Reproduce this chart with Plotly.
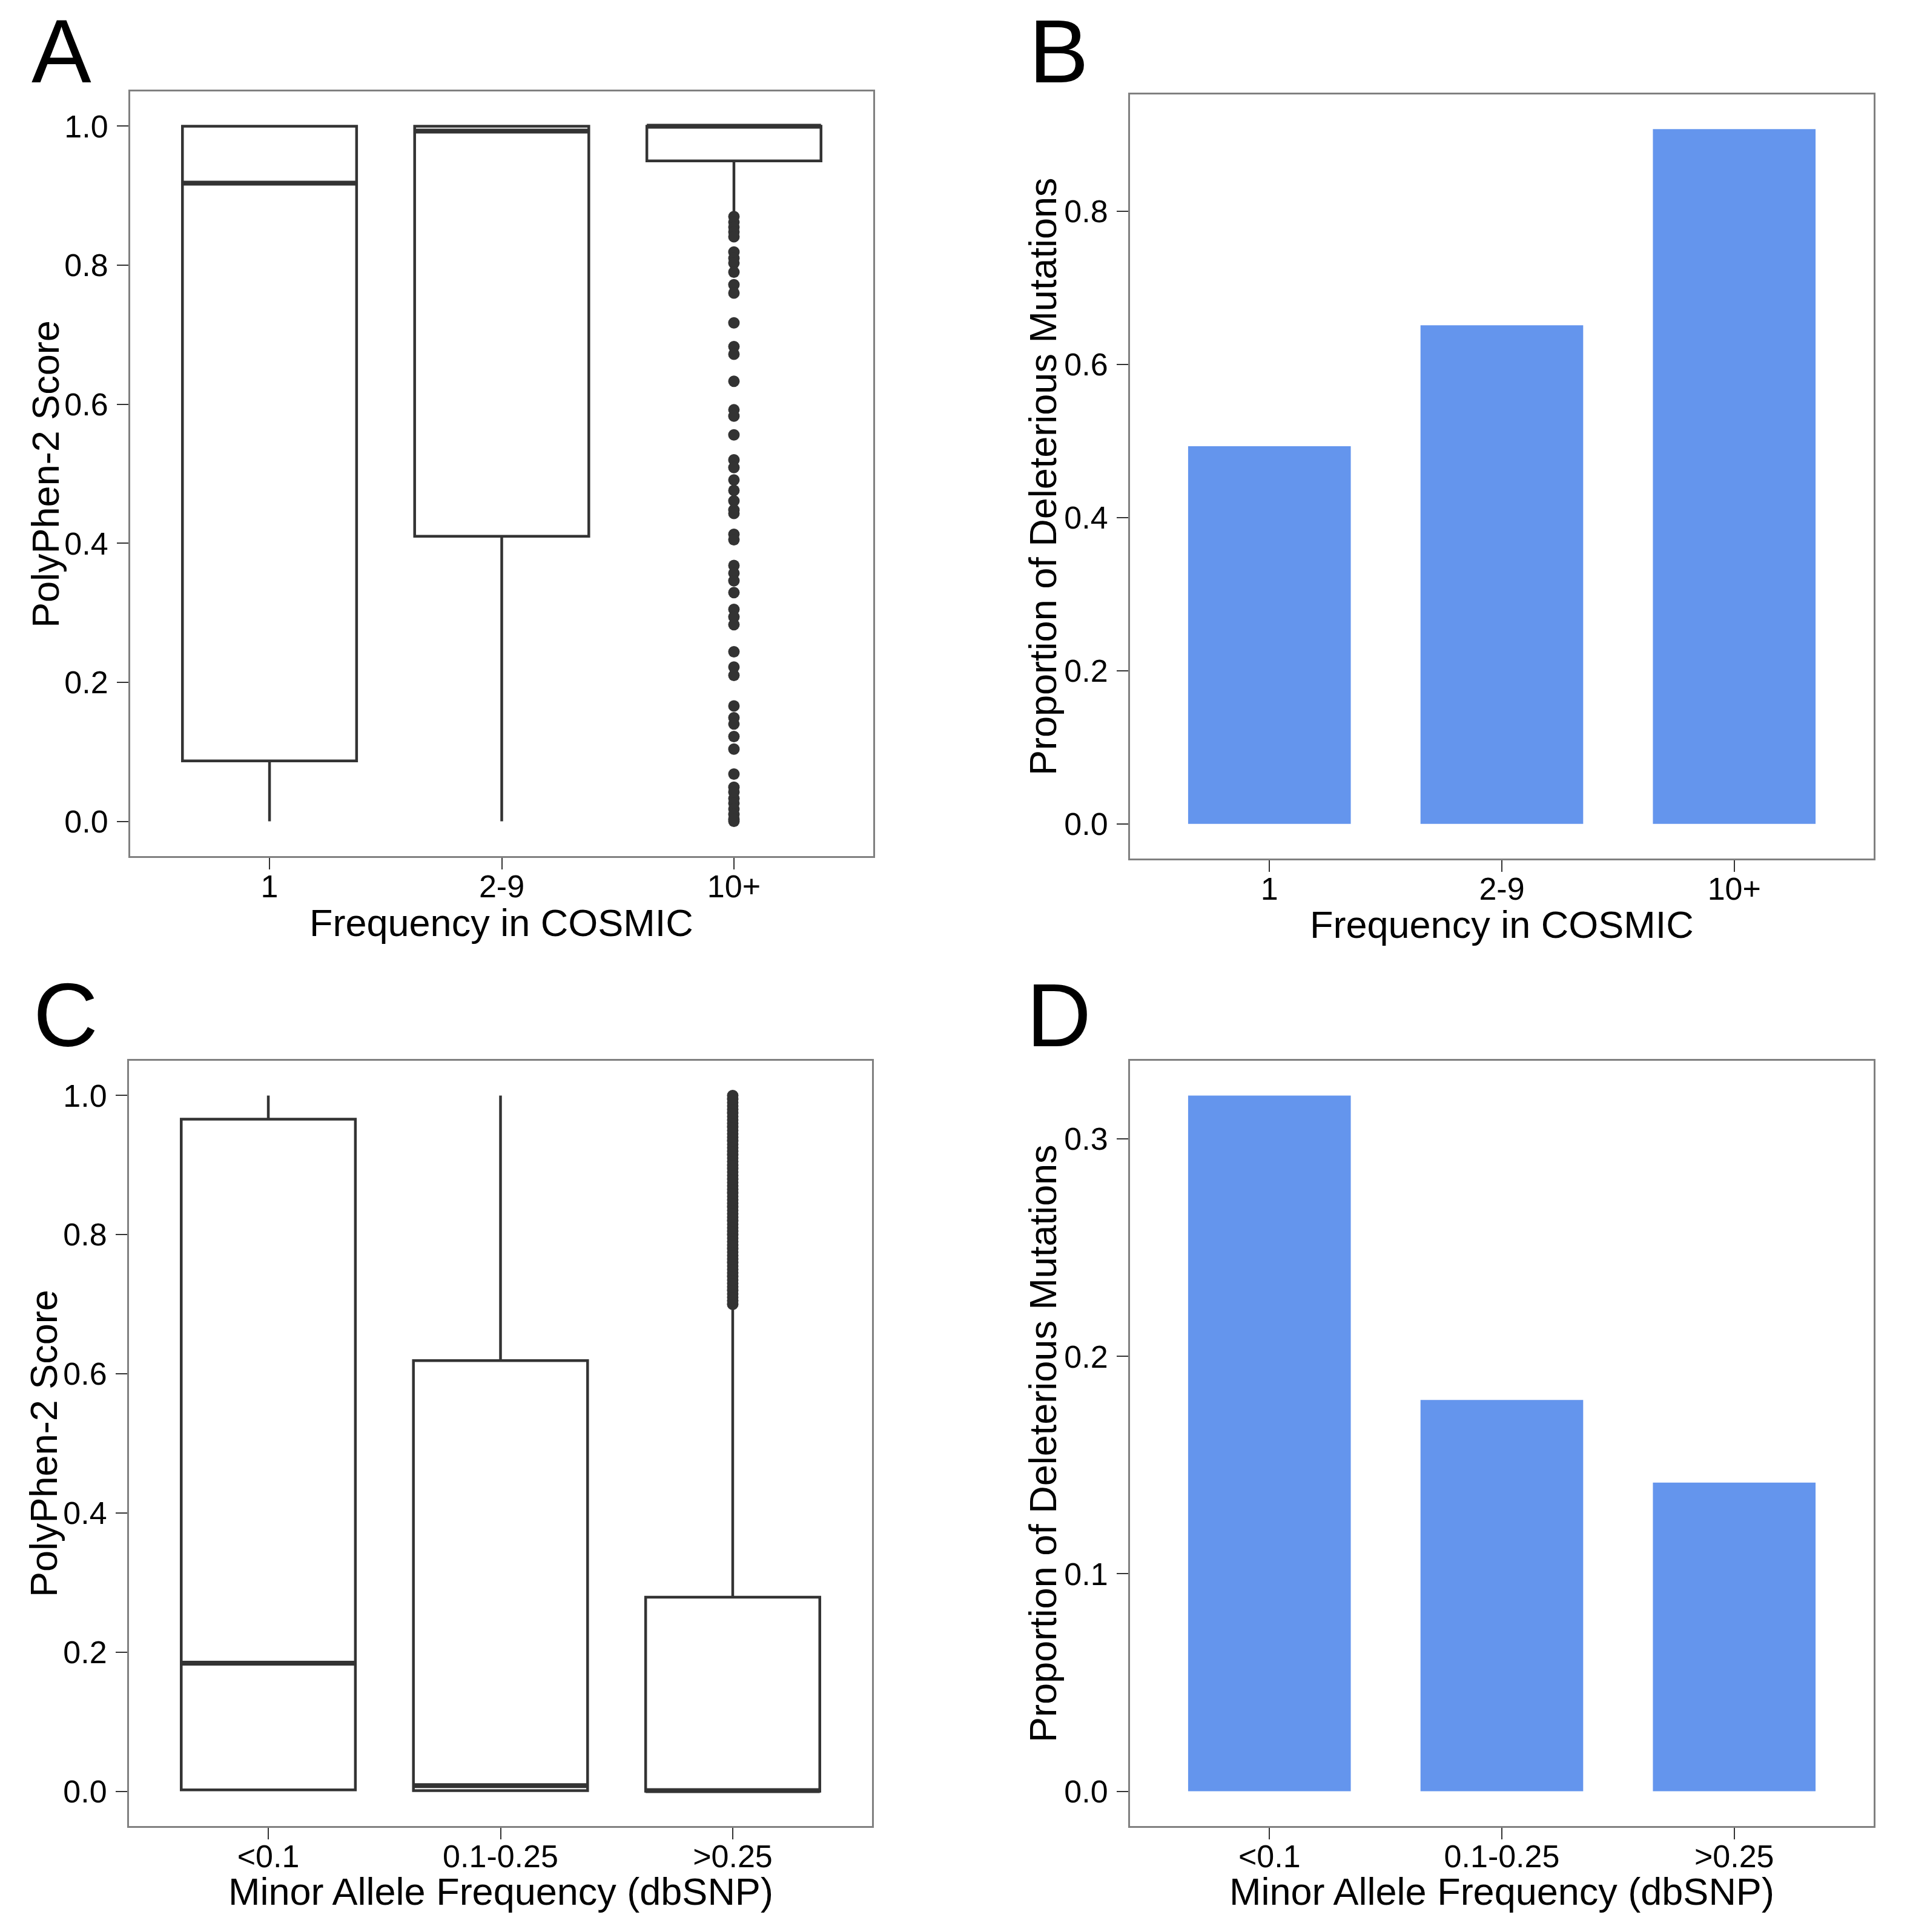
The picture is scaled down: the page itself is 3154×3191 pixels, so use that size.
import plotly.graph_objects as go

W, H = 3154, 3191

# ---------------- data ----------------
cosmic_cats = ["1", "2-9", "10+"]
maf_cats = ["<0.1", "0.1-0.25", ">0.25"]

# Panel A: PolyPhen-2 score by COSMIC frequency (box statistics)
a_lower = [0.0, 0.0, 0.875]
a_q1 = [0.087, 0.41, 0.95]
a_median = [0.918, 0.993, 1.0]
a_q3 = [1.0, 1.0, 1.0]
a_upper = [1.0, 1.0, 1.0]
a_outliers_10plus = [0.870, 0.862, 0.855, 0.848, 0.841, 0.819, 0.810, 0.803, 0.790,
                     0.772, 0.760, 0.717, 0.683, 0.672, 0.633, 0.592, 0.583, 0.556,
                     0.520, 0.509, 0.491, 0.476, 0.461, 0.448, 0.443, 0.413, 0.405,
                     0.368, 0.357, 0.346, 0.329, 0.305, 0.294, 0.283, 0.244, 0.222,
                     0.210, 0.166, 0.149, 0.140, 0.122, 0.104, 0.068, 0.049, 0.042,
                     0.033, 0.026, 0.018, 0.010, 0.003, 0.0]

# Panel B: proportion of deleterious mutations by COSMIC frequency
b_prop = [0.493, 0.651, 0.907]

# Panel C: PolyPhen-2 score by minor allele frequency (box statistics)
c_lower = [0.0, 0.0, 0.0]
c_q1 = [0.002, 0.001, 0.0]
c_median = [0.184, 0.008, 0.001]
c_q3 = [0.966, 0.619, 0.279]
c_upper = [1.0, 1.0, 0.697]
c_outliers_gt025 = [0.700, 0.705, 0.710, 0.715, 0.720, 0.725, 0.730, 0.735, 0.740,
                    0.745, 0.750, 0.755, 0.760, 0.765, 0.770, 0.775, 0.780, 0.785,
                    0.790, 0.795, 0.800, 0.805, 0.810, 0.815, 0.820, 0.825, 0.830,
                    0.835, 0.840, 0.845, 0.850, 0.855, 0.860, 0.865, 0.870, 0.875,
                    0.880, 0.885, 0.890, 0.895, 0.900, 0.905, 0.910, 0.915, 0.920,
                    0.925, 0.930, 0.935, 0.940, 0.945, 0.950, 0.955, 0.960, 0.965,
                    0.970, 0.975, 0.980, 0.985, 0.990, 0.995, 1.000]

# Panel D: proportion of deleterious mutations by minor allele frequency
d_prop = [0.320, 0.180, 0.142]

score_ticks = [0.0, 0.2, 0.4, 0.6, 0.8, 1.0]
b_ticks = [0.0, 0.2, 0.4, 0.6, 0.8]
d_ticks = [0.0, 0.1, 0.2, 0.3]

# ---------------- style ----------------
FONT = "Liberation Sans, Arial, Helvetica, sans-serif"
DARK = "#333333"
FRAME = "#808080"
BAR = "#6495ED"
TICK_FS = 52
TITLE_FS = 63
LETTER_FS = 148
BOX_W = 0.75
BAR_W = 0.7
DOT = 19

# panel rectangles in pixels (left, right, top, bottom)
panels = {
    "A": (215, 1442, 151, 1414),
    "B": (1866, 3094, 156, 1418),
    "C": (213, 1440, 1752, 3016),
    "D": (1866, 3094, 1752, 3016),
}


def xdom(p):
    l, r, t, b = panels[p]
    return [l / W, r / W]


def ydom(p):
    l, r, t, b = panels[p]
    return [1 - b / H, 1 - t / H]


fig = go.Figure()


def add_boxes(cats, lower, q1, med, q3, upper, xa, ya):
    idx = list(range(len(cats)))
    fig.add_trace(go.Box(
        x=idx, q1=q1, median=med, q3=q3, lowerfence=lower, upperfence=upper,
        width=BOX_W, whiskerwidth=0, fillcolor="white",
        line=dict(color=DARK, width=4.5), boxpoints=False,
        xaxis=xa, yaxis=ya, showlegend=False, hoverinfo="skip"))
    # thicker median line (as in ggplot)
    for i, m in zip(idx, med):
        fig.add_trace(go.Scatter(
            x=[i - BOX_W / 2, i + BOX_W / 2], y=[m, m], mode="lines",
            line=dict(color=DARK, width=8), xaxis=xa, yaxis=ya,
            showlegend=False, hoverinfo="skip"))


add_boxes(cosmic_cats, a_lower, a_q1, a_median, a_q3, a_upper, "x", "y")
fig.add_trace(go.Scatter(
    x=[cosmic_cats.index("10+")] * len(a_outliers_10plus), y=a_outliers_10plus,
    mode="markers", marker=dict(color=DARK, size=DOT, line=dict(width=0)),
    xaxis="x", yaxis="y", showlegend=False, hoverinfo="skip"))

fig.add_trace(go.Bar(
    x=list(range(len(cosmic_cats))), y=b_prop, width=BAR_W,
    marker=dict(color=BAR, line=dict(width=0)),
    xaxis="x2", yaxis="y2", showlegend=False, hoverinfo="skip"))

add_boxes(maf_cats, c_lower, c_q1, c_median, c_q3, c_upper, "x3", "y3")
fig.add_trace(go.Scatter(
    x=[maf_cats.index(">0.25")] * len(c_outliers_gt025), y=c_outliers_gt025,
    mode="markers", marker=dict(color=DARK, size=DOT, line=dict(width=0)),
    xaxis="x3", yaxis="y3", showlegend=False, hoverinfo="skip"))

fig.add_trace(go.Bar(
    x=list(range(len(maf_cats))), y=d_prop, width=BAR_W,
    marker=dict(color=BAR, line=dict(width=0)),
    xaxis="x4", yaxis="y4", showlegend=False, hoverinfo="skip"))


def xaxis_cfg(p, cats, anchor):
    return dict(
        domain=xdom(p), anchor=anchor, range=[-0.6, len(cats) - 0.4],
        tickmode="array", tickvals=list(range(len(cats))), ticktext=cats,
        ticks="outside", ticklen=19, tickwidth=2, tickcolor=DARK,
        tickfont=dict(family=FONT, size=TICK_FS, color="black"),
        ticklabelstandoff=-16,
        showline=True, linecolor=FRAME, linewidth=3, mirror=True,
        showgrid=False, zeroline=False, fixedrange=True)


def yaxis_cfg(p, rng, ticks, anchor):
    return dict(
        domain=ydom(p), anchor=anchor, range=rng,
        tickmode="array", tickvals=ticks, ticktext=["%.1f" % t for t in ticks],
        ticks="outside", ticklen=19, tickwidth=2, tickcolor=DARK,
        tickfont=dict(family=FONT, size=TICK_FS, color="black"),
        ticklabelstandoff=4,
        showline=True, linecolor=FRAME, linewidth=3, mirror=True,
        showgrid=False, zeroline=False, fixedrange=True)


score_rng = [-0.05, 1.05]
b_rng = [-0.05 * max(b_prop), 1.05 * max(b_prop)]
d_rng = [-0.05 * max(d_prop), 1.05 * max(d_prop)]

annotations = []


def ann(text, px, py, size, angle=0, xanchor="center", yanchor="middle"):
    annotations.append(dict(
        text=text, x=px / W, y=1 - py / H, xref="paper", yref="paper",
        showarrow=False, textangle=angle, xanchor=xanchor, yanchor=yanchor,
        font=dict(family=FONT, size=size, color="black")))


# panel letters
ann("A", 50, 0, LETTER_FS, xanchor="left", yanchor="top")
ann("B", 1697, 0, LETTER_FS, xanchor="left", yanchor="top")
ann("C", 53, 1677, LETTER_FS, xanchor="left")
ann("D", 1693, 1677, LETTER_FS, xanchor="left")

# axis titles
ann("Frequency in COSMIC", 828, 1524, TITLE_FS)
ann("Frequency in COSMIC", 2480, 1527, TITLE_FS)
ann("Minor Allele Frequency (dbSNP)", 827, 3124, TITLE_FS)
ann("Minor Allele Frequency (dbSNP)", 2480, 3124, TITLE_FS)
ann("PolyPhen-2 Score", 75, 783, TITLE_FS, angle=-90)
ann("PolyPhen-2 Score", 72, 2384, TITLE_FS, angle=-90)
ann("Proportion of Deleterious Mutations", 1722, 787, TITLE_FS, angle=-90)
ann("Proportion of Deleterious Mutations", 1722, 2384, TITLE_FS, angle=-90)

fig.update_layout(
    width=W, height=H, margin=dict(l=0, r=0, t=0, b=0),
    paper_bgcolor="white", plot_bgcolor="white",
    xaxis=xaxis_cfg("A", cosmic_cats, "y"),
    yaxis=yaxis_cfg("A", score_rng, score_ticks, "x"),
    xaxis2=xaxis_cfg("B", cosmic_cats, "y2"),
    yaxis2=yaxis_cfg("B", b_rng, b_ticks, "x2"),
    xaxis3=xaxis_cfg("C", maf_cats, "y3"),
    yaxis3=yaxis_cfg("C", score_rng, score_ticks, "x3"),
    xaxis4=xaxis_cfg("D", maf_cats, "y4"),
    yaxis4=yaxis_cfg("D", d_rng, d_ticks, "x4"),
    annotations=annotations,
    showlegend=False, hovermode=False,
)

fig.write_html(
    "out.html",
    config={"displayModeBar": False, "staticPlot": True},
    post_script="document.body.style.margin='0';document.body.style.overflow='hidden';",
)
